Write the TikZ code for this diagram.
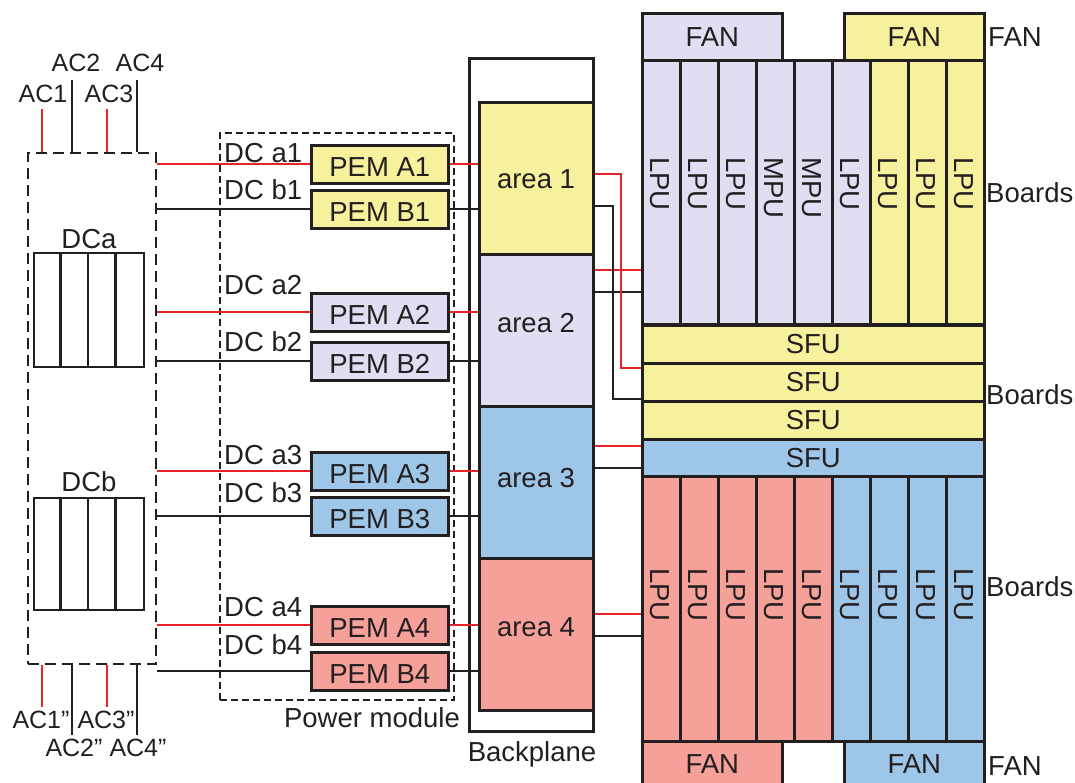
\documentclass[tikz,border=0pt]{standalone}
\usepackage{fontspec}
\setmainfont{Liberation Sans}
\definecolor{cy}{RGB}{245,241,156}
\definecolor{cl}{RGB}{224,222,240}
\definecolor{cb}{RGB}{158,198,232}
\definecolor{cs}{RGB}{245,160,152}
\definecolor{rl}{RGB}{232,35,40}
\definecolor{lc}{RGB}{35,31,32}
\newcommand\mainfs{\fontsize{27.5}{31}\selectfont}
\newcommand\acfs{\fontsize{25}{28}\selectfont}
\begin{document}
\begin{tikzpicture}[x=1pt,y=-1pt,
  every node/.style={text=lc, font=\mainfs, inner sep=0pt},
  box/.style={draw=lc, line width=2.6pt, anchor=north west},
  pem/.style={box, minimum width=137pt, minimum height=38pt},
  area/.style={box, minimum width=114pt, minimum height=152pt},
  col/.style={box, minimum width=38pt},
  sfu/.style={box, minimum width=342pt, minimum height=38pt},
  fan/.style={box, minimum width=140pt, minimum height=47pt},
  wr/.style={draw=rl, line width=2.2pt},
  wk/.style={draw=lc, line width=2.1pt},
  aclab/.style={font=\acfs},
]
\useasboundingbox (0,0) rectangle (1075,783);
\clip (0,0) rectangle (1075,783);

% ---------- AC / DC source box ----------
\node[draw=lc, line width=2.3pt, dash pattern=on 11pt off 6pt, anchor=north west,
      minimum width=128pt, minimum height=511pt] (acbox) at (27,152) {};
\node (dcalab) at (89,239) {DCa};
\node[draw=lc, line width=2.1pt, anchor=north west, minimum width=110pt, minimum height=114pt] (dcabox) at (33,252) {};
\foreach \k in {1,2,3} \draw[wk] ({33+27.5*\k},252) -- ({33+27.5*\k},366);
\node (dcblab) at (89,482) {DCb};
\node[draw=lc, line width=2.1pt, anchor=north west, minimum width=110pt, minimum height=112pt] (dcbbox) at (33,497) {};
\foreach \k in {1,2,3} \draw[wk] ({33+27.5*\k},497) -- ({33+27.5*\k},609);

% AC inputs top
\coordinate (t1) at (42,109);
\coordinate (t2) at (72,80);
\coordinate (t3) at (107,109);
\coordinate (t4) at (137,80);
\draw[wr] (t1) -- (t1 |- acbox.north);
\draw[wk] (t2) -- (t2 |- acbox.north);
\draw[wr] (t3) -- (t3 |- acbox.north);
\draw[wk] (t4) -- (t4 |- acbox.north);
\node[aclab] (lac1) at (43,94) {AC1};
\node[aclab] (lac2) at (76,63) {AC2};
\node[aclab] (lac3) at (109,94) {AC3};
\node[aclab] (lac4) at (140,63) {AC4};
% AC inputs bottom
\coordinate (b1) at (42,707);
\coordinate (b2) at (72,735);
\coordinate (b3) at (107,707);
\coordinate (b4) at (137,735);
\draw[wr] (b1) -- (b1 |- acbox.south);
\draw[wk] (b2) -- (b2 |- acbox.south);
\draw[wr] (b3) -- (b3 |- acbox.south);
\draw[wk] (b4) -- (b4 |- acbox.south);
\node[aclab] (lbc1) at (41,720) {AC1”};
\node[aclab] (lbc3) at (106,720) {AC3”};
\node[aclab] (lbc2) at (74,748) {AC2”};
\node[aclab] (lbc4) at (138,748) {AC4”};

% ---------- Power module ----------
\node[draw=lc, line width=2.1pt, dash pattern=on 7pt off 4pt, anchor=north west,
      minimum width=234pt, minimum height=567pt] (pm) at (219,132) {};
\node (pmlab) at (372,718) {Power module};

\node[pem, fill=cy] (pa1) at (310,144) {};
\node[pem, fill=cy] (pb1) at (310,189) {};
\node[pem, fill=cl] (pa2) at (310,292) {};
\node[pem, fill=cl] (pb2) at (310,341) {};
\node[pem, fill=cb] (pa3) at (310,451) {};
\node[pem, fill=cb] (pb3) at (310,496) {};
\node[pem, fill=cs] (pa4) at (310,605) {};
\node[pem, fill=cs] (pb4) at (310,651) {};
\foreach \n/\t in {pa1/PEM A1,pb1/PEM B1,pa2/PEM A2,pb2/PEM B2,pa3/PEM A3,pb3/PEM B3,pa4/PEM A4,pb4/PEM B4}
  \node[yshift=-2.5pt] (\n t) at (\n.center) {\t};

\node[anchor=west] (dca1) at (224,153) {DC a1};
\node[anchor=west] (dcb1) at (224,190) {DC b1};
\node[anchor=west] (dca2) at (224,285) {DC a2};
\node[anchor=west] (dcb2) at (224,342) {DC b2};
\node[anchor=west] (dca3) at (224,455) {DC a3};
\node[anchor=west] (dcb3) at (224,493) {DC b3};
\node[anchor=west] (dca4) at (224,607) {DC a4};
\node[anchor=west] (dcb4) at (224,645) {DC b4};

% ---------- Backplane ----------
\node[box, minimum width=124pt, minimum height=673pt] (bp) at (468,57) {};
\node (bplab) at (532,754) {Backplane};
\node[area, fill=cy] (area1) at (478,101) {};
\node[area, fill=cl] (area2) at (478,253) {};
\node[area, fill=cb] (area3) at (478,405) {};
\node[area, fill=cs] (area4) at (478,557) {};
\node (ar1t) at (536,179) {area 1};
\node (ar2t) at (536,323) {area 2};
\node (ar3t) at (536,478) {area 3};
\node (ar4t) at (536,627) {area 4};

% DC lines to PEMs
\foreach \n in {1,2,3,4} {
  \draw[wr] (acbox.east |- pa\n.west) -- (pa\n.west);
  \draw[wk] (acbox.east |- pb\n.west) -- (pb\n.west);
  \draw[wr] (pa\n.east) -- (pa\n.east -| area\n.west);
  \draw[wk] (pb\n.east) -- (pb\n.east -| area\n.west);
}

% ---------- Boards ----------
\foreach \i/\c/\t in {1/cl/LPU,2/cl/LPU,3/cl/LPU,4/cl/MPU,5/cl/MPU,6/cl/LPU,7/cy/LPU,8/cy/LPU,9/cy/LPU} {
  \node[col, fill=\c, minimum height=264pt] (u\i) at ({641+38*(\i-1)},59) {};
  \node[rotate=-90, anchor=west] (ut\i) at ({660+38*(\i-1)},157) {\t};
}
\foreach \i/\c in {1/cs,2/cs,3/cs,4/cs,5/cs,6/cb,7/cb,8/cb,9/cb} {
  \node[col, fill=\c, minimum height=265pt] (d\i) at ({641+38*(\i-1)},475) {};
  \node[rotate=-90, anchor=west] (dt\i) at ({660+38*(\i-1)},568) {LPU};
}
\node[sfu, fill=cy] (s1) at (641,324) {SFU};
\node[sfu, fill=cy] (s2) at (641,362) {SFU};
\node[sfu, fill=cy] (s3) at (641,400) {SFU};
\node[sfu, fill=cb, minimum height=37pt] (s4) at (641,438) {SFU};

\node[fan, fill=cl] (fa) at (641,12) {FAN};
\node[fan, fill=cy] (fb) at (843,12) {FAN};
\node[fan, fill=cs, minimum height=46pt] (fc) at (641,740) {FAN};
\node[fan, fill=cb, minimum height=46pt] (fd) at (843,740) {FAN};

\node[anchor=west] (rfan1) at (988,37) {FAN};
\node[anchor=west] (rb1) at (986,193) {Boards};
\node[anchor=west] (rb2) at (986,395) {Boards};
\node[anchor=west] (rb3) at (986,587) {Boards};
\node[anchor=west] (rfan2) at (988,766) {FAN};

% ---------- Backplane to boards ----------
\draw[wr] ([yshift=60pt]area2.east) -- ([yshift=60pt]area2.east -| u1.west);
\draw[wk] ([yshift=38pt]area2.east) -- ([yshift=38pt]area2.east -| u1.west);
\draw[wk] ([yshift=-28pt]area1.east) -- ++(18,0) |- ([yshift=-17pt]s2.west);
\draw[wr] ([yshift=4pt]area1.east) -- ++(26,0) |- ([yshift=14pt]s2.west);
\draw[wr] ([yshift=36pt]area3.east) -- ([yshift=36pt]area3.east -| s4.west);
\draw[wk] ([yshift=14pt]area3.east) -- ([yshift=14pt]area3.east -| s4.west);
\draw[wr] ([yshift=20pt]area4.east) -- ([yshift=20pt]area4.east -| d1.west);
\draw[wk] ([yshift=-2pt]area4.east) -- ([yshift=-2pt]area4.east -| d1.west);
\end{tikzpicture}
\end{document}
